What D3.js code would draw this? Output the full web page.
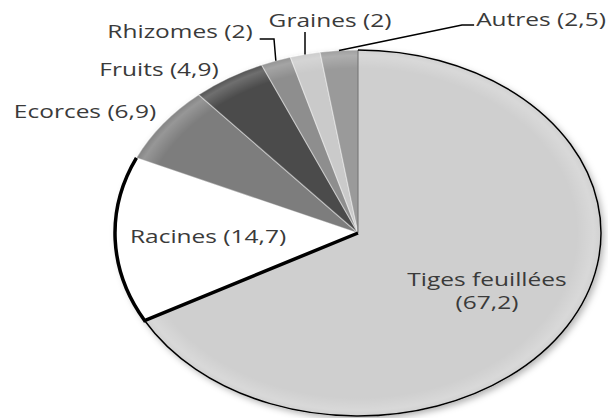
<!DOCTYPE html>
<html>
<head>
<meta charset="utf-8">
<script src="https://cdn.jsdelivr.net/npm/d3@7"></script>
<style>
  body { margin: 0; background: #fff; }
  text { font-family: 'Open Sans', 'Noto Sans', sans-serif; fill: #3a3a3a; }
</style>
</head>
<body>
<div id="chart"></div>
<script>
// parts of the plant used (%)
let categories = ['Tiges feuillées', 'Racines', 'Ecorces', 'Fruits', 'Rhizomes', 'Graines', 'Autres']
let values = [67.2, 14.7, 6.9, 4.9, 2, 2, 2.5]
let valueLabels = ['67,2', '14,7', '6,9', '4,9', '2', '2', '2,5']
let fills = ['#cfcfcf', '#ffffff', '#7d7d7d', '#4b4b4b', '#8e8e8e', '#cacaca', '#9a9a9a']

// label placement (outside labels were moved by hand in the original)
let outsideLabels = {
  Ecorces: { x: 85, y: 118 },
  Fruits: { x: 159, y: 76 },
  Rhizomes: { x: 180, y: 38, elbow: [274, 39] },
  Graines: { x: 330, y: 27, elbow: [305, 32] },
  Autres: { x: 541, y: 26, elbow: [462, 25] }
}

let width = 608
let height = 418
let cx = 358
let cy = 233
let radius = 183
let stretch = 243 / 183
let textStretch = 1.4

let data = categories.map((c, i) => ({ name: c, value: values[i], label: valueLabels[i], fill: fills[i] }))

let svg = d3
  .select('#chart')
  .append('svg')
  .attr('width', width)
  .attr('height', height)

let defs = svg.append('defs')

let shadow = defs
  .append('filter')
  .attr('id', 'shadow')
  .attr('x', '-20%')
  .attr('y', '-20%')
  .attr('width', '140%')
  .attr('height', '140%')
shadow
  .append('feDropShadow')
  .attr('dx', 2)
  .attr('dy', 3)
  .attr('stdDeviation', 3)
  .attr('flood-color', '#000')
  .attr('flood-opacity', 0.3)

let bevel = defs
  .append('radialGradient')
  .attr('id', 'bevel')
  .attr('gradientUnits', 'userSpaceOnUse')
  .attr('cx', 0)
  .attr('cy', 0)
  .attr('r', radius)
let stops = [
  [0, '#fff', 0],
  [0.9, '#fff', 0],
  [0.97, '#fff', 0.2],
  [1, '#fff', 0.05]
]
stops.forEach(s => {
  bevel
    .append('stop')
    .attr('offset', s[0])
    .attr('stop-color', s[1])
    .attr('stop-opacity', s[2])
})

let pie = d3
  .pie()
  .sort(null)
  .value(d => d.value)

let arc = d3
  .arc()
  .innerRadius(0)
  .outerRadius(radius)

let labelArc = d3
  .arc()
  .innerRadius(113)
  .outerRadius(113)

let arcs = pie(data)

let g = svg
  .append('g')
  .attr('transform', 'translate(' + cx + ',' + cy + ') scale(' + stretch + ',1)')

let slices = g.append('g').attr('filter', 'url(#shadow)')

slices
  .selectAll('.slice')
  .data(arcs)
  .enter()
  .append('path')
  .attr('class', 'slice')
  .attr('d', arc)
  .attr('fill', d => d.data.fill)
  .attr('stroke', 'rgba(255,255,255,0.4)')
  .attr('stroke-width', 1.2)
  .attr('vector-effect', 'non-scaling-stroke')

g.selectAll('.bevel')
  .data(arcs)
  .enter()
  .append('path')
  .attr('class', 'bevel')
  .attr('d', arc)
  .attr('fill', 'url(#bevel)')

// outline of a slice: first radial edge + outer arc
function outline(d, withEdge) {
  let p = d3.path()
  let a0 = d.startAngle - Math.PI / 2
  let a1 = d.endAngle - Math.PI / 2
  if (withEdge) {
    p.moveTo(0, 0)
    p.lineTo(radius * Math.cos(a0), radius * Math.sin(a0))
  } else {
    p.moveTo(radius * Math.cos(a0), radius * Math.sin(a0))
  }
  p.arc(0, 0, radius, a0, a1)
  return p.toString()
}

// grey edge where the big slice starts
let a0 = arcs[0].startAngle - Math.PI / 2
g.append('line')
  .attr('x1', 0)
  .attr('y1', 0)
  .attr('x2', radius * Math.cos(a0))
  .attr('y2', radius * Math.sin(a0))
  .attr('stroke', '#5a5a5a')
  .attr('stroke-width', 1)
  .attr('vector-effect', 'non-scaling-stroke')

// thin line along the big slice
g.append('path')
  .attr('d', outline(arcs[0], false))
  .attr('fill', 'none')
  .attr('stroke', '#000')
  .attr('stroke-width', 1.5)
  .attr('vector-effect', 'non-scaling-stroke')

// thick line round Racines
g.append('path')
  .attr('d', outline(arcs[1], true))
  .attr('fill', 'none')
  .attr('stroke', '#000')
  .attr('stroke-width', 3.5)
  .attr('vector-effect', 'non-scaling-stroke')

// point on the (stretched) pie edge at the middle of a slice
function edgePoint(d) {
  let a = (d.startAngle + d.endAngle) / 2
  return [cx + stretch * radius * Math.sin(a), cy - radius * Math.cos(a)]
}

let labels = svg.append('g').attr('font-size', 17.5)

arcs.forEach(d => {
  let name = d.data.name
  let pos = outsideLabels[name]
  let text = name + ' (' + d.data.label + ')'

  if (!pos) {
    let c = labelArc.centroid(d)
    let x = cx + c[0] * stretch
    let y = cy + c[1]
    let t = labels
      .append('text')
      .attr('text-anchor', 'middle')
      .attr('transform', 'translate(' + x + ',' + y + ') scale(' + textStretch + ',1)')
    if (d.data.value > 50) {
      t.append('tspan').attr('x', 0).attr('y', -5).text(name)
      t.append('tspan').attr('x', 0).attr('y', 18).text('(' + d.data.label + ')')
    } else {
      t.append('tspan').attr('x', 0).attr('y', 6).text(text)
    }
    return
  }

  let t = labels
    .append('text')
    .attr('text-anchor', 'middle')
    .attr('transform', 'translate(' + pos.x + ',' + pos.y + ') scale(' + textStretch + ',1)')
    .text(text)

  if (pos.elbow) {
    let w = t.node().getComputedTextLength() * textStretch
    let e = edgePoint(d)
    let pts
    if (name === 'Rhizomes') {
      pts = [[pos.x + w / 2 + 7, pos.elbow[1]], pos.elbow, e]
    } else if (name === 'Graines') {
      pts = [pos.elbow, [pos.elbow[0], e[1]]]
    } else {
      pts = [[pos.x - w / 2 - 2, pos.elbow[1]], pos.elbow, e]
    }
    svg
      .append('path')
      .attr('d', d3.line()(pts))
      .attr('fill', 'none')
      .attr('stroke', '#000')
      .attr('stroke-width', 1.5)
  }
})
</script>
</body>
</html>
